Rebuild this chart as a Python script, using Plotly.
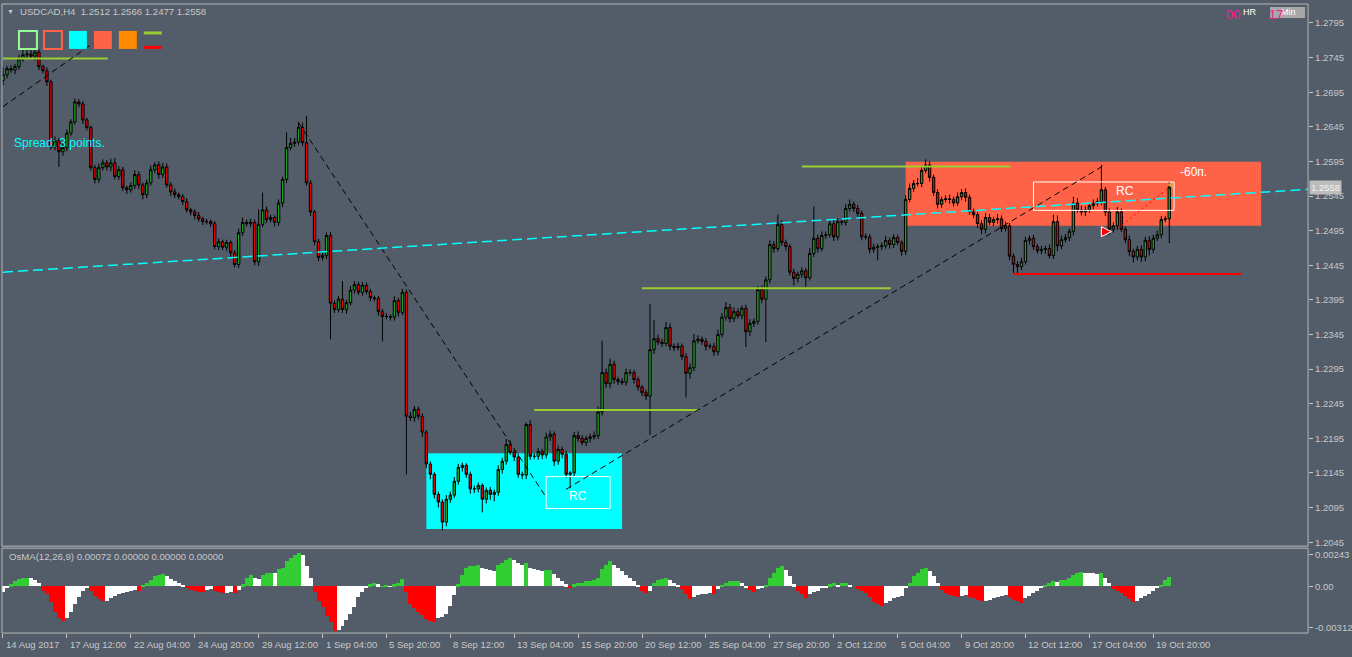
import plotly.graph_objects as go

W, H = 1352, 657
BG = "#535c69"
FG = "#c8c8c8"
FONT = "Liberation Sans"

# ---------------- data ----------------
first_open = 1.2712
closes = [
    1.2720, 1.2729, 1.2727, 1.2732, 1.2743, 1.2749, 1.2750, 1.2747, 1.2753, 1.2732,
    1.2726, 1.2710, 1.2616, 1.2625, 1.2609, 1.2615, 1.2636, 1.2652, 1.2681, 1.2678,
    1.2655, 1.2644, 1.2586, 1.2569, 1.2586, 1.2593, 1.2587, 1.2593, 1.2573, 1.2583,
    1.2557, 1.2554, 1.2560, 1.2576, 1.2561, 1.2547, 1.2564, 1.2583, 1.2590, 1.2576,
    1.2587, 1.2561, 1.2551, 1.2547, 1.2544, 1.2537, 1.2525, 1.2522, 1.2517, 1.2512,
    1.2508, 1.2508, 1.2505, 1.2472, 1.2479, 1.2471, 1.2478, 1.2463, 1.2446, 1.2492,
    1.2507, 1.2505, 1.2507, 1.2450, 1.2504, 1.2525, 1.2511, 1.2514, 1.2507, 1.2535,
    1.2569, 1.2615, 1.2621, 1.2623, 1.2644, 1.2622, 1.2564, 1.2522, 1.2479, 1.2456,
    1.2459, 1.2488, 1.2390, 1.2381, 1.2396, 1.2381, 1.2391, 1.2409, 1.2417, 1.2406,
    1.2416, 1.2407, 1.2398, 1.2397, 1.2378, 1.2371, 1.2371, 1.2370, 1.2394, 1.2377,
    1.2406, 1.2227, 1.2225, 1.2237, 1.2227, 1.2204, 1.2158, 1.2143, 1.2114, 1.2103,
    1.2074, 1.2107, 1.2113, 1.2133, 1.2153, 1.2156, 1.2143, 1.2122, 1.2122, 1.2127,
    1.2107, 1.2120, 1.2114, 1.2117, 1.2150, 1.2162, 1.2186, 1.2175, 1.2168, 1.2143,
    1.2142, 1.2215, 1.2169, 1.2169, 1.2176, 1.2171, 1.2197, 1.2201, 1.2162, 1.2179,
    1.2172, 1.2143, 1.2145, 1.2199, 1.2195, 1.2189, 1.2195, 1.2197, 1.2199, 1.2233,
    1.2290, 1.2274, 1.2302, 1.2280, 1.2277, 1.2276, 1.2290, 1.2290, 1.2280, 1.2269,
    1.2261, 1.2256, 1.2323, 1.2339, 1.2334, 1.2332, 1.2355, 1.2328, 1.2326, 1.2328,
    1.2313, 1.2289, 1.2297, 1.2336, 1.2338, 1.2335, 1.2328, 1.2328, 1.2320, 1.2345,
    1.2370, 1.2384, 1.2368, 1.2378, 1.2372, 1.2383, 1.2349, 1.2361, 1.2364, 1.2410,
    1.2396, 1.2424, 1.2475, 1.2469, 1.2504, 1.2478, 1.2472, 1.2435, 1.2426, 1.2432,
    1.2437, 1.2427, 1.2462, 1.2484, 1.2469, 1.2488, 1.2489, 1.2505, 1.2486, 1.2508,
    1.2507, 1.2527, 1.2533, 1.2527, 1.2520, 1.2486, 1.2486, 1.2468, 1.2471, 1.2472,
    1.2473, 1.2481, 1.2475, 1.2485, 1.2478, 1.2465, 1.2540, 1.2556, 1.2563, 1.2563,
    1.2582, 1.2590, 1.2572, 1.2550, 1.2533, 1.2540, 1.2541, 1.2540, 1.2535, 1.2544,
    1.2550, 1.2543, 1.2522, 1.2518, 1.2505, 1.2497, 1.2514, 1.2507, 1.2511, 1.2512,
    1.2498, 1.2502, 1.2458, 1.2446, 1.2443, 1.2450, 1.2481, 1.2484, 1.2472, 1.2466,
    1.2468, 1.2469, 1.2459, 1.2508, 1.2473, 1.2482, 1.2485, 1.2494, 1.2535, 1.2525,
    1.2522, 1.2525, 1.2531, 1.2534, 1.2537, 1.2554, 1.2522, 1.2497, 1.2502, 1.2522,
    1.2497, 1.2482, 1.2465, 1.2457, 1.2468, 1.2457, 1.2481, 1.2468, 1.2484, 1.2489,
    1.2511, 1.2512, 1.2558,
]
# upper / lower shadow length of every candle, in pips
up_wick_pips = [
    11, 4, 5, 4, 6, 8, 6, 7, 5, 4,
    3, 5, 3, 6, 4, 8, 5, 4, 5, 4,
    4, 3, 3, 4, 6, 5, 4, 6, 7, 5,
    4, 3, 5, 6, 5, 4, 5, 6, 4, 5,
    6, 5, 4, 5, 3, 4, 5, 3, 4, 5,
    3, 4, 3, 4, 5, 3, 4, 3, 4, 6,
    7, 4, 5, 4, 22, 25, 5, 4, 3, 5,
    4, 22, 8, 6, 8, 7, 39, 4, 3, 4,
    5, 4, 5, 4, 5, 26, 4, 6, 5, 4,
    5, 4, 4, 3, 4, 4, 5, 3, 6, 4,
    5, 4, 6, 5, 4, 4, 3, 4, 3, 4,
    4, 6, 5, 6, 5, 4, 3, 4, 5, 4,
    3, 4, 5, 4, 6, 5, 8, 6, 4, 5,
    4, 3, 6, 5, 5, 4, 6, 5, 4, 6,
    4, 5, 3, 5, 6, 5, 4, 5, 6, 8,
    46, 6, 8, 5, 4, 5, 6, 5, 4, 4,
    3, 4, 66, 27, 6, 5, 8, 6, 4, 5,
    4, 5, 6, 10, 6, 4, 5, 4, 5, 7,
    6, 8, 5, 6, 5, 4, 5, 6, 4, 5,
    6, 5, 6, 5, 14, 6, 4, 4, 5, 4,
    5, 4, 8, 46, 5, 6, 5, 6, 8, 5,
    5, 6, 7, 4, 5, 4, 5, 4, 5, 4,
    5, 6, 4, 5, 4, 3, 6, 7, 5, 8,
    6, 8, 5, 4, 5, 4, 5, 6, 4, 6,
    5, 6, 4, 5, 4, 5, 6, 5, 4, 7,
    5, 6, 4, 4, 5, 6, 5, 4, 5, 4,
    5, 4, 6, 10, 9, 6, 5, 4, 9, 7,
    6, 5, 4, 6, 5, 36, 4, 5, 5, 7,
    5, 4, 6, 4, 5, 6, 5, 6, 5, 6,
    5, 4, 8,
]
down_wick_pips = [
    7, 5, 4, 6, 5, 4, 5, 4, 6, 5,
    4, 6, 4, 5, 22, 6, 5, 4, 4, 5,
    6, 4, 5, 6, 5, 4, 5, 6, 4, 5,
    5, 6, 4, 5, 6, 7, 5, 4, 5, 6,
    5, 4, 6, 5, 4, 5, 4, 5, 6, 4,
    5, 4, 5, 4, 5, 4, 5, 6, 4, 5,
    5, 4, 5, 5, 6, 4, 5, 4, 6, 5,
    6, 5, 4, 5, 4, 5, 4, 6, 5, 5,
    4, 5, 52, 5, 4, 5, 6, 4, 5, 4,
    5, 4, 5, 4, 6, 36, 4, 5, 5, 6,
    4, 84, 5, 6, 5, 7, 6, 7, 6, 8,
    12, 6, 5, 4, 5, 6, 5, 7, 6, 5,
    19, 6, 8, 10, 5, 6, 5, 4, 6, 5,
    6, 6, 5, 4, 5, 6, 5, 6, 7, 5,
    6, 5, 20, 6, 5, 4, 5, 6, 4, 5,
    5, 6, 7, 6, 5, 4, 5, 4, 6, 5,
    5, 6, 56, 6, 4, 5, 4, 6, 5, 4,
    5, 35, 8, 5, 4, 5, 6, 4, 6, 5,
    4, 5, 6, 5, 4, 5, 22, 6, 5, 5,
    6, 62, 5, 6, 4, 5, 6, 5, 10, 6,
    5, 13, 4, 5, 6, 4, 5, 4, 6, 5,
    4, 5, 4, 5, 6, 5, 4, 6, 5, 19,
    5, 4, 6, 5, 4, 6, 5, 4, 5, 4,
    5, 4, 6, 5, 6, 5, 4, 6, 5, 4,
    5, 6, 4, 5, 6, 7, 6, 4, 5, 6,
    5, 4, 6, 12, 12, 5, 4, 6, 5, 4,
    5, 6, 4, 5, 8, 5, 4, 5, 6, 4,
    5, 6, 4, 5, 4, 5, 6, 8, 5, 6,
    4, 5, 7, 8, 5, 7, 6, 9, 5, 4,
    5, 4, 35,
]
# OsMA(12,26,9) histogram, in units of 0.00001
osma_e5 = [
    -46, -8, 15, 38, 55, 61, 63, 62, 46, 23,
    -38, -61, -122, -198, -243, -266, -243, -198, -137, -84,
    -38, -8, -38, -76, -99, -114, -112, -91, -76, -61,
    -53, -46, -38, -30, -34, 8, 23, 46, 76, 84,
    91, 76, 53, 38, 23, 8, -15, -30, -38, -40,
    -42, -30, -23, -38, -46, -53, -50, -46, -53, -30,
    15, 61, 84, 61, 60, 84, 99, 106, 99, 129,
    144, 190, 220, 236, 251, 236, 152, 68, -46, -114,
    -160, -228, -274, -340, -330, -304, -258, -213, -160, -84,
    -46, -8, 15, 23, 15, 2, 4, -4, 15, 30,
    53, -46, -137, -167, -198, -220, -251, -266, -267, -243,
    -236, -213, -152, -68, 15, 84, 144, 152, 156, 160,
    137, 129, 122, 114, 167, 182, 198, 213, 205, 182,
    167, 182, 144, 129, 122, 114, 122, 125, 91, 68,
    38, 15, -15, 15, 23, 30, 38, 42, 46, 68,
    129, 160, 190, 160, 137, 114, 84, 61, 38, 8,
    -38, -53, -38, 23, 46, 53, 68, 46, 23, 8,
    -23, -61, -99, -84, -68, -61, -57, -49, -55, -23,
    8, 23, 38, 40, 42, 23, -8, -30, -46, -23,
    -8, 8, 68, 106, 137, 152, 122, 76, 15, -38,
    -61, -91, -61, -46, -38, -15, -8, 15, 23, 8,
    23, 25, 8, 0, -23, -38, -53, -84, -122, -137,
    -152, -129, -114, -91, -84, -76, -8, 30, 76, 106,
    129, 137, 114, 76, 30, -30, -53, -68, -76, -84,
    -76, -68, -84, -91, -106, -114, -112, -106, -91, -84,
    -76, -68, -84, -106, -114, -129, -91, -76, -53, -38,
    -8, 8, 23, 38, 36, 46, 48, 61, 84, 106,
    109, 106, 104, 99, 97, 100, 68, 23, -23, -38,
    -53, -76, -99, -122, -114, -91, -76, -61, -38, -8,
    8, 46, 72,
]
osma_color_codes = "".join([
    "wwgggggwww", "rrrrrrwwww", "wwrrrrwwww", "wwwwrggggg", "gwwwwwrrrr",
    "rwwrrrwwrw", "gggwwgggwg", "gggggwwwrr", "rrrrwwwwww", "wwggwggwgg",
    "grrrrrrrrw", "wwwwgggggg", "wwwwggggww", "wgwwwwggww", "wwrggggggg",
    "gggwwwwwww", "rrwggggwww", "rrrwwwwwrw", "gggggwwrrw", "wgggggwwwr",
    "rrwwwwwggw", "ggwwrrrrrr", "rwwwwwwggg", "ggwwwrrrrr", "wwrrrrwwww",
    "wwrrrrwwww", "wgggwggggg", "gwwwwgwwrr", "rrrrwwwwww", "ggg",
])

price_ticks = [1.2045, 1.2095, 1.2145, 1.2195, 1.2245, 1.2295, 1.2345, 1.2395,
               1.2445, 1.2495, 1.2545, 1.2595, 1.2645, 1.2695, 1.2745, 1.2795]
osma_ticks = [0.00243, 0.0, -0.00312]
osma_tick_text = ["0.00243", "0.00", "-0.00312"]
date_tick_bars = [0, 16, 32, 48, 64, 80, 96, 112, 128, 144, 160, 176, 192, 208,
                  224, 240, 256, 272, 288]
date_tick_labels = ["14 Aug 2017", "17 Aug 12:00", "22 Aug 04:00", "24 Aug 20:00",
                    "29 Aug 12:00", "1 Sep 04:00", "5 Sep 20:00", "8 Sep 12:00",
                    "13 Sep 04:00", "15 Sep 20:00", "20 Sep 12:00", "25 Sep 04:00",
                    "27 Sep 20:00", "2 Oct 12:00", "5 Oct 04:00", "9 Oct 20:00",
                    "12 Oct 12:00", "17 Oct 04:00", "19 Oct 20:00"]

# horizontal levels (bar from, bar to, price)
lime_start = [0, 200, 160, 133]
lime_end = [26.25, 252.25, 222.25, 174]
lime_price = [1.27435, 1.25878, 1.24118, 1.22359]
red_level_start, red_level_end, red_level_price = 253, 310, 1.24323

# filled zones
zone_x0 = [106, 226]
zone_x1 = [155, 315]
zone_p0 = [1.20642, 1.25022]
zone_p1 = [1.21734, 1.25945]
zone_colors = ["#00ffff", "#ff6347"]

# "RC" boxes
rc_x0 = [136, 258]
rc_x1 = [152, 293.2]
rc_p0 = [1.20937, 1.25243]
rc_p1 = [1.21398, 1.25653]
rc_text_x = [144, 281]
rc_text_p = [1.21114, 1.25527]

# trend lines (x0, p0, x1, p1)
black_lines = [(0, 1.2674, 22.6, 1.2766),
               (74, 1.26508, 136, 1.21099),
               (141, 1.21215, 275.5, 1.25888)]
cyan_line = (0, 1.24350, 326.75, 1.25547)
red_dot_line = (279.25, 1.24989, 291.75, 1.25566)

arrow_bar, arrow_price = [277.5], [1.24936]
tri_bar, tri_price = [292.5], [1.25614]
label_60_bar, label_60_price = 294.25, 1.25801

assert len(closes) == 293 and len(up_wick_pips) == 293 and len(down_wick_pips) == 293
assert len(osma_e5) == 293 and len(osma_color_codes) == 293

# ---------------- build ----------------
pip = 0.0001
bars = list(range(len(closes)))
opens = [first_open] + closes[:-1]
highs = [round(max(o, c) + u * pip, 5) for o, c, u in zip(opens, closes, up_wick_pips)]
lows = [round(min(o, c) - d * pip, 5) for o, c, d in zip(opens, closes, down_wick_pips)]
osma = [v * 1e-5 for v in osma_e5]
cmap = {"g": "#32cd32", "r": "#ff0000", "w": "#ffffff"}
osma_colors = [cmap[c] for c in osma_color_codes]


def px(x):
    return x / W


def py(y):
    return 1 - y / H


fig = go.Figure()
fig.add_trace(go.Candlestick(
    x=bars, open=opens, high=highs, low=lows, close=closes,
    increasing=dict(line=dict(color="black", width=1), fillcolor="#1f9f1f"),
    decreasing=dict(line=dict(color="black", width=1), fillcolor="#e60000"),
    whiskerwidth=0, hoverinfo="skip", xaxis="x", yaxis="y"))
fig.add_trace(go.Bar(x=bars, y=osma, width=1.0,
                     marker=dict(color=osma_colors, line=dict(width=0)),
                     hoverinfo="skip", xaxis="x", yaxis="y2"))
fig.add_trace(go.Scatter(x=arrow_bar, y=arrow_price, mode="markers",
                         marker=dict(symbol="arrow-right", size=10, color="#ff0000",
                                     line=dict(color="white", width=1)),
                         hoverinfo="skip", xaxis="x", yaxis="y"))
fig.add_trace(go.Scatter(x=tri_bar, y=tri_price, mode="markers",
                         marker=dict(symbol="triangle-left", size=7, color="#e0a040",
                                     line=dict(width=0)),
                         hoverinfo="skip", xaxis="x", yaxis="y"))

shapes = []
for x0, x1, p0, p1, col in zip(zone_x0, zone_x1, zone_p0, zone_p1, zone_colors):
    shapes.append(dict(type="rect", xref="x", yref="y", x0=x0, x1=x1, y0=p0, y1=p1,
                       fillcolor=col, line=dict(width=0), layer="below"))
for x0, x1, p0, p1 in zip(rc_x0, rc_x1, rc_p0, rc_p1):
    shapes.append(dict(type="rect", xref="x", yref="y", x0=x0, x1=x1, y0=p0, y1=p1,
                       line=dict(color="white", width=1), layer="above"))
for x0, x1, p in zip(lime_start, lime_end, lime_price):
    shapes.append(dict(type="line", xref="x", yref="y", x0=x0, x1=x1, y0=p, y1=p,
                       line=dict(color="#9acd32", width=2), layer="above"))
shapes.append(dict(type="line", xref="x", yref="y", x0=red_level_start, x1=red_level_end,
                   y0=red_level_price, y1=red_level_price,
                   line=dict(color="#ff0000", width=2), layer="above"))
for x0, p0, x1, p1 in black_lines:
    shapes.append(dict(type="line", xref="x", yref="y", x0=x0, x1=x1, y0=p0, y1=p1,
                       line=dict(color="black", width=1, dash="6px,4px"), layer="above"))
x0, p0, x1, p1 = cyan_line
shapes.append(dict(type="line", xref="x", yref="y", x0=x0, x1=x1, y0=p0, y1=p1,
                   line=dict(color="#00ffff", width=1.5, dash="10px,5px"), layer="above"))
x0, p0, x1, p1 = red_dot_line
shapes.append(dict(type="line", xref="x", yref="y", x0=x0, x1=x1, y0=p0, y1=p1,
                   line=dict(color="#ff0000", width=1, dash="2px,3px"), layer="above"))

# panel frames
shapes.append(dict(type="rect", xref="paper", yref="paper", x0=px(2), x1=px(1310),
                   y0=py(547), y1=py(4), line=dict(color="#b8b8b8", width=1)))
shapes.append(dict(type="rect", xref="paper", yref="paper", x0=px(2), x1=px(1310),
                   y0=py(634), y1=py(549), line=dict(color="#b8b8b8", width=1)))

# legend squares (top left)
shapes += [
    dict(type="rect", xref="paper", yref="paper", x0=px(19), x1=px(37), y0=py(49), y1=py(31),
         line=dict(color="#98fb98", width=2)),
    dict(type="rect", xref="paper", yref="paper", x0=px(44), x1=px(62), y0=py(49), y1=py(31),
         line=dict(color="#ff6347", width=2)),
    dict(type="rect", xref="paper", yref="paper", x0=px(69), x1=px(87), y0=py(49), y1=py(31),
         fillcolor="#00ffff", line=dict(width=0)),
    dict(type="rect", xref="paper", yref="paper", x0=px(94), x1=px(112), y0=py(49), y1=py(31),
         fillcolor="#ff6347", line=dict(width=0)),
    dict(type="rect", xref="paper", yref="paper", x0=px(119), x1=px(137), y0=py(49), y1=py(31),
         fillcolor="#ff8c00", line=dict(width=0)),
    dict(type="line", xref="paper", yref="paper", x0=px(144), x1=px(162), y0=py(33), y1=py(33),
         line=dict(color="#9acd32", width=3)),
    dict(type="line", xref="paper", yref="paper", x0=px(144), x1=px(162), y0=py(47.5), y1=py(47.5),
         line=dict(color="#ff0000", width=3)),
    dict(type="rect", xref="paper", yref="paper", x0=px(1272), x1=px(1307), y0=py(18), y1=py(7),
         fillcolor="#a8a8a8", line=dict(width=0)),
]

ann = []
tf = dict(family=FONT, size=9.5, color=FG)
for b, lab in zip(date_tick_bars, date_tick_labels):
    ann.append(dict(xref="x", yref="paper", x=b, y=py(645), xanchor="left", yanchor="middle",
                    xshift=1, text=lab, showarrow=False, font=tf))
ann.append(dict(xref="paper", yref="paper", x=px(5), y=py(12), xanchor="left", yanchor="middle",
                text="▼", showarrow=False, font=dict(family=FONT, size=7, color=FG)))
ann.append(dict(xref="paper", yref="paper", x=px(18), y=py(12), xanchor="left", yanchor="middle",
                text=f"USDCAD,H4  {opens[-1]:.4f} {highs[-1]:.4f} {lows[-1]:.4f} {closes[-1]:.4f}",
                showarrow=False, font=dict(family=FONT, size=9.6, color=FG)))
ann.append(dict(xref="paper", yref="paper", x=px(12), y=py(143), xanchor="left", yanchor="middle",
                text="Spread: 3 points.", showarrow=False,
                font=dict(family=FONT, size=12, color="#00ffff")))
ann.append(dict(xref="paper", yref="paper", x=px(7), y=py(557), xanchor="left", yanchor="middle",
                text=f"OsMA(12,26,9) {osma[-1]:.5f} 0.00000 0.00000 0.00000", showarrow=False,
                font=dict(family=FONT, size=9.6, color=FG)))
ann.append(dict(xref="paper", yref="y", x=px(1311), y=closes[-1], xanchor="left",
                yanchor="middle", text=f"{closes[-1]:.4f}", showarrow=False,
                bgcolor="#bcbcbc", borderpad=1,
                font=dict(family=FONT, size=9.5, color="#f4f4f4")))
for tx, tp in zip(rc_text_x, rc_text_p):
    ann.append(dict(xref="x", yref="y", x=tx, y=tp, text="RC", showarrow=False,
                    font=dict(family=FONT, size=12, color="white")))
ann.append(dict(xref="x", yref="y", x=label_60_bar, y=label_60_price, xanchor="left",
                text="-60п.", showarrow=False, font=dict(family=FONT, size=12, color="white")))
ann.append(dict(xref="paper", yref="paper", x=px(1226), y=py(15), xanchor="left",
                yanchor="middle", text="00", showarrow=False,
                font=dict(family=FONT, size=13, color="#ff1493")))
ann.append(dict(xref="paper", yref="paper", x=px(1243), y=py(12), xanchor="left",
                yanchor="middle", text="HR", showarrow=False,
                font=dict(family=FONT, size=9, color="white")))
ann.append(dict(xref="paper", yref="paper", x=px(1290), y=py(12.5), xanchor="center",
                yanchor="middle", text="Min", showarrow=False,
                font=dict(family=FONT, size=9, color="white")))
ann.append(dict(xref="paper", yref="paper", x=px(1269), y=py(15), xanchor="left",
                yanchor="middle", text="17", showarrow=False,
                font=dict(family=FONT, size=13, color="#ff1493")))

fig.update_layout(
    width=W, height=H, margin=dict(l=0, r=0, t=0, b=0),
    paper_bgcolor=BG, plot_bgcolor=BG, showlegend=False, hovermode=False,
    bargap=0, boxgap=0.15,
    xaxis=dict(domain=[px(2), px(1310)], range=[-0.25, 326.75], anchor="y2",
               showgrid=False, zeroline=False, showticklabels=False, showline=False,
               ticks="outside", ticklen=4, tickcolor=FG, tickvals=date_tick_bars,
               rangeslider=dict(visible=False), fixedrange=True),
    yaxis=dict(domain=[py(547), py(4)], range=[1.203926, 1.28224], side="right",
               anchor="x", showgrid=False, zeroline=False, showline=False,
               tickvals=price_ticks, ticktext=[f"{p:.4f}" for p in price_ticks],
               ticks="outside", ticklen=4, tickcolor=FG, tickfont=tf, fixedrange=True),
    yaxis2=dict(domain=[py(634), py(549)], range=[-0.003534, 0.002926], side="right",
                anchor="x", showgrid=False, zeroline=False, showline=False,
                tickvals=osma_ticks, ticktext=osma_tick_text,
                ticks="outside", ticklen=4, tickcolor=FG, tickfont=tf, fixedrange=True),
    shapes=shapes, annotations=ann,
)

page_fix = ("document.body.style.margin='0';document.body.style.padding='0';"
            "document.body.style.overflow='hidden';"
            "document.documentElement.style.background='" + BG + "';")
fig.write_html("out.html", config={"displayModeBar": False}, post_script=page_fix)
